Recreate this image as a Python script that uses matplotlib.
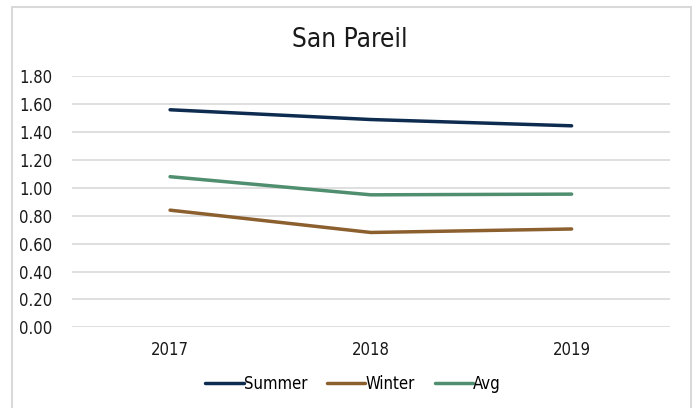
import matplotlib.pyplot as plt
from matplotlib.patches import Rectangle

years = ['2017', '2018', '2019']
summer = [1.56, 1.49, 1.445]
winter = [0.84, 0.68, 0.705]
avg = [1.08, 0.95, 0.955]

plt.rcParams['font.family'] = ['DejaVu Sans']
plt.rcParams['font.stretch'] = 'condensed'

fig = plt.figure(figsize=(6.97, 4.08), dpi=100)
W, H = 697, 408

# light grey chart frame
fig.patches.append(Rectangle((12 / W, -0.05), (691 - 12) / W, 1.05 - 7 / H,
                             transform=fig.transFigure, fill=False,
                             edgecolor='#d9d9d9', linewidth=1.5))

ax = fig.add_axes([71.7 / W, 1 - 327.3 / H, (670 - 71.7) / W, (327.3 - 76.3) / H])
x = range(len(years))
ax.plot(x, summer, color='#0e2c50', lw=2.5, label='Summer', solid_capstyle='round')
ax.plot(x, winter, color='#8c5f2f', lw=2.5, label='Winter', solid_capstyle='round')
ax.plot(x, avg, color='#4f8e6e', lw=2.5, label='Avg', solid_capstyle='round')

ax.set_xlim(-0.49, 2.49)
ax.set_ylim(0, 1.8)
ax.set_yticks([i * 0.2 for i in range(10)])
ax.set_yticklabels(['%.2f' % (i * 0.2) for i in range(10)])
ax.set_xticks(list(x))
ax.set_xticklabels(years)
ax.tick_params(length=0, labelsize=12, colors='#1a1a1a')
ax.tick_params(axis='y', pad=14)
ax.tick_params(axis='x', pad=10)
ax.grid(axis='y', color='#d9d9d9', lw=1.2)
ax.set_axisbelow(True)
for s in ax.spines.values():
    s.set_visible(False)

fig.text(350 / W, 1 - 40 / H, 'San Pareil', ha='center', va='center', fontsize=18.8, color='#1a1a1a')

fig.legend(loc='center', bbox_to_anchor=(353 / W, 1 - 384 / H), ncol=3, frameon=False,
           fontsize=12, handlelength=2.3, handletextpad=0.0, columnspacing=1.2)

fig.savefig('out.png', dpi=100)
